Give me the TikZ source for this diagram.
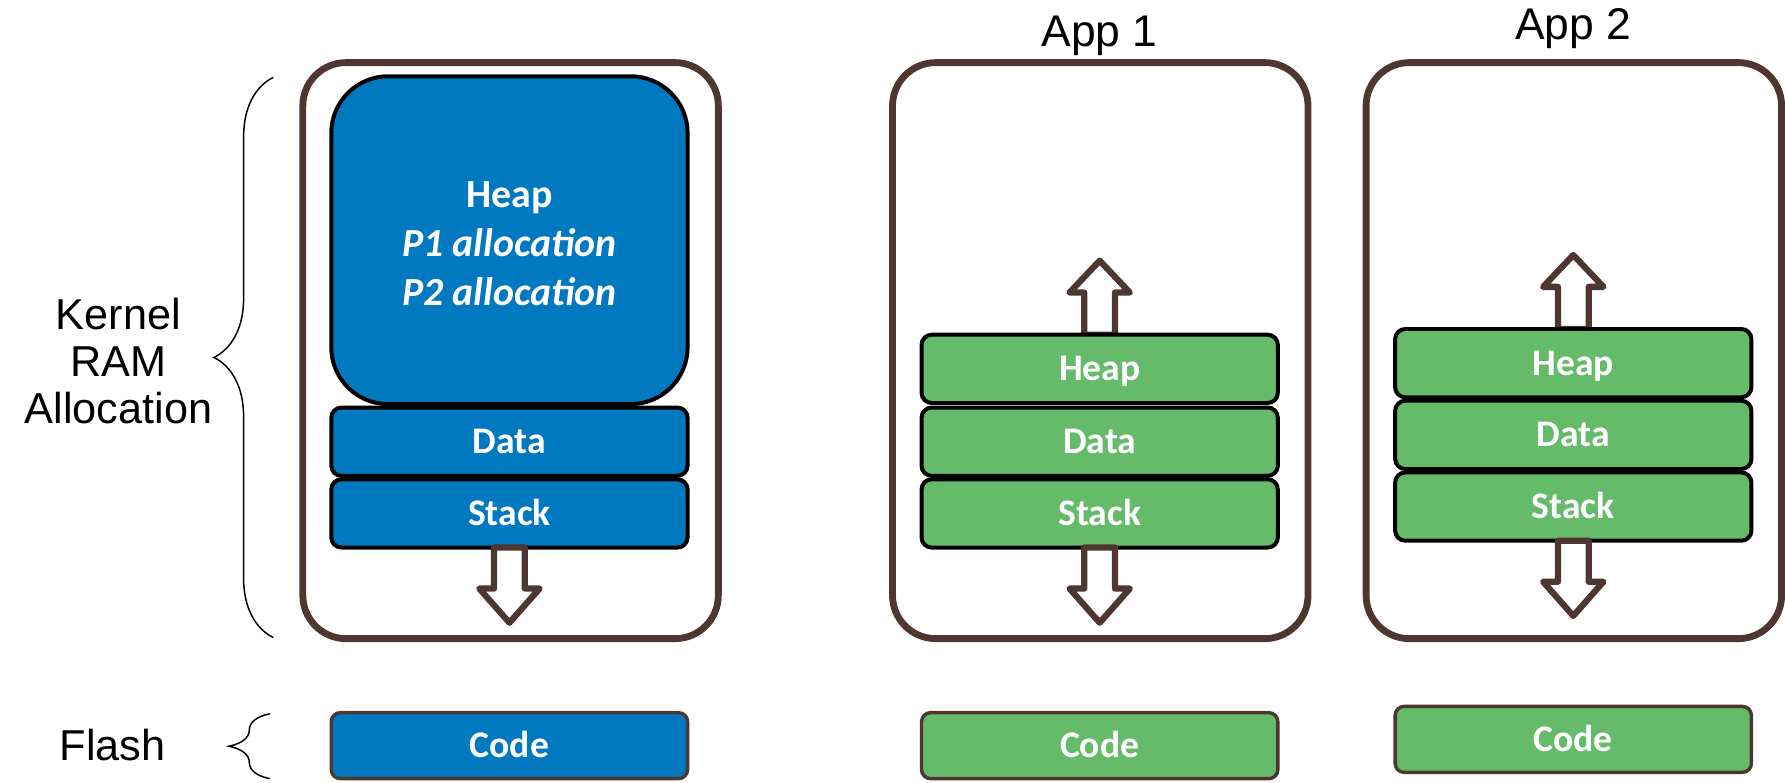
\documentclass[tikz,border=0pt]{standalone}
\usepackage{fontspec}
\setmainfont{Liberation Sans}
\newfontfamily\boxfont{Carlito}
\usetikzlibrary{decorations.pathreplacing}

\definecolor{framebrown}{RGB}{78,54,49}
\definecolor{kernelblue}{RGB}{0,121,193}
\definecolor{appgreen}{RGB}{102,187,106}

\tikzset{
  memframe/.style={draw=framebrown, line width=6pt, rounded corners=38pt,
    minimum width=365pt, minimum height=506pt, inner sep=0pt, outer sep=0pt},
  segment/.style={draw=black, line width=3.5pt, rounded corners=9pt,
    minimum width=313pt, minimum height=60pt, inner sep=0pt, outer sep=0pt,
    text=white, font=\boxfont\bfseries\fontsize{33}{43}\selectfont,
    text height=21pt, text depth=0pt},
  kseg/.style={segment, fill=kernelblue},
  aseg/.style={segment, fill=appgreen},
  codebox/.style={segment, draw=framebrown, line width=3pt, rounded corners=8pt,
    minimum height=58pt},
  sidelabel/.style={font=\fontsize{38}{41}\selectfont, align=center, inner sep=0pt},
  brace/.style={decorate, line width=1.3pt},
  arrowline/.style={draw=framebrown, fill=white, line width=5.5pt, line join=round},
  growdown/.pic={
    \path[arrowline] (-13.5,0) -- (-13.5,36) -- (-26.5,36) -- (0,66)
      -- (26.5,36) -- (13.5,36) -- (13.5,0) -- cycle;},
  growup/.pic={
    \path[arrowline] (-13.5,0) -- (-13.5,-37) -- (-26.5,-37) -- (0,-65)
      -- (26.5,-37) -- (13.5,-37) -- (13.5,0) -- cycle;}
}

\begin{document}
\begin{tikzpicture}[x=1pt, y=-1pt]
  \useasboundingbox (0,0) rectangle (1568,687);

  % side labels and braces
  \node[sidelabel] (ramlabel) at (104,317) {Kernel\\RAM\\Allocation};
  \node[sidelabel, anchor=base] (flashlabel) at (99,668) {Flash};
  \draw[brace, decoration={brace, amplitude=52pt}] (240,560) -- (240,68);
  \draw[brace, decoration={brace, amplitude=36pt}] (237,684) -- (237,627);

  % RAM regions
  \node[memframe] (kframe) at (448.5,308) {};
  \node[memframe] (aframe) at (966.5,308) {};
  \node[memframe] (bframe) at (1382.5,308) {};
  \node[sidelabel, font=\fontsize{39}{41}\selectfont, anchor=base] (atitle) at (966,41) {App 1};
  \node[sidelabel, font=\fontsize{39}{41}\selectfont, anchor=base] (btitle) at (1382,35) {App 2};

  % heap growth arrows (behind the heaps)
  \pic at (966,294) {growup};
  \pic at (1382,289) {growup};

  % kernel segments
  \node[kseg, rounded corners=50pt, minimum height=288pt] (kheap) at (447.5,211) {};
  \node[text=white, align=center, inner sep=0pt,
        font=\boxfont\bfseries\fontsize{35}{43}\selectfont] (kheaptext) at (447.5,214)
    {Heap\\\itshape P1 allocation\\\itshape P2 allocation};
  \node[kseg] (kdata) at (447.5,388) {Data};
  \node[kseg] (kstack) at (447.5,451) {Stack};

  % App 1 segments
  \node[aseg] (aheap) at (966,324) {Heap};
  \node[aseg] (adata) at (966,388) {Data};
  \node[aseg] (astack) at (966,451) {Stack};

  % App 2 segments
  \node[aseg] (bheap) at (1382,319) {Heap};
  \node[aseg] (bdata) at (1382,382) {Data};
  \node[aseg] (bstack) at (1382,445) {Stack};

  % stack growth arrows
  \pic at (kstack.south) {growdown};
  \pic at (astack.south) {growdown};
  \pic at (bstack.south) {growdown};

  % flash code segments
  \node[codebox, fill=kernelblue] (kcode) at (447.5,655) {Code};
  \node[codebox, fill=appgreen] (acode) at (966,655) {Code};
  \node[codebox, fill=appgreen] (bcode) at (1382,649.5) {Code};
\end{tikzpicture}
\end{document}
